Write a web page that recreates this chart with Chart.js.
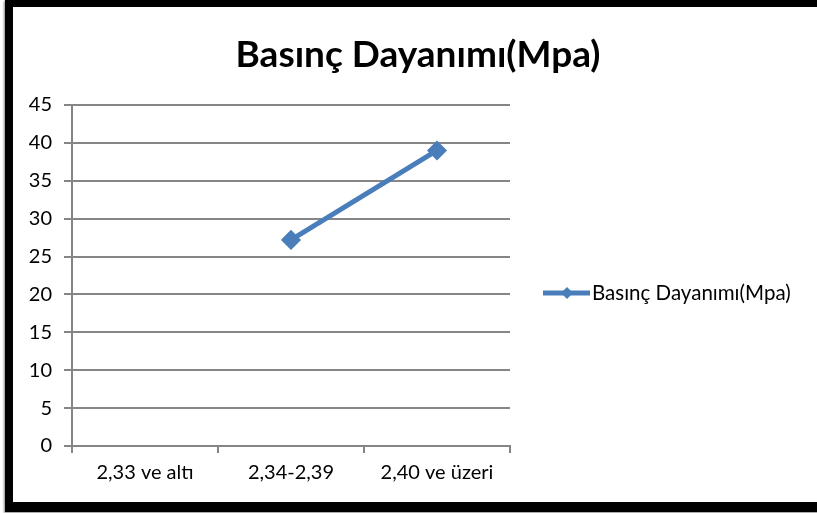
<!DOCTYPE html>
<html>
<head>
<meta charset="utf-8">
<script src="https://cdn.jsdelivr.net/npm/chart.js@4/dist/chart.umd.min.js"></script>
<style>
    body { margin: 0; background: #fff; overflow: hidden; }
    #frame {
        position: absolute; left: 5px; top: 0; width: 830px; height: 495px;
        border-style: solid; border-color: #000;
        border-width: 7px 0 10px 8px;
        box-shadow: -1px 1px 2px #888;
        background: #fff;
    }
    #wrap { position: absolute; left: 0; top: 0; width: 817px; height: 513px; }
</style>
</head>
<body>
<div id="frame"></div>
<div id="wrap"><canvas id="chart"></canvas></div>
<script>
const categories = ['2,33 ve altı', '2,34-2,39', '2,40 ve üzeri'];
const strength = [null, 27.2, 39];
const seriesName = 'Basınç Dayanımı(Mpa)';
const lineColor = '#4A7EBB';

// title and legend drawn by hand, placed like the office chart
const decorations = {
    id: 'decorations',
    afterDraw(chart) {
        const ctx = chart.ctx;
        const ds = chart.data.datasets[0];
        ctx.save();
        ctx.fillStyle = '#000';
        ctx.font = 'bold 37px Lato';
        ctx.textAlign = 'center';
        ctx.textBaseline = 'middle';
        ctx.fillText(seriesName, 418, 55);

        const y = 293;
        ctx.strokeStyle = ds.borderColor;
        ctx.lineWidth = 5;
        ctx.beginPath();
        ctx.moveTo(543, y);
        ctx.lineTo(590, y);
        ctx.stroke();
        ctx.fillStyle = ds.borderColor;
        ctx.beginPath();
        ctx.moveTo(567, y - 6);
        ctx.lineTo(573, y);
        ctx.lineTo(567, y + 6);
        ctx.lineTo(561, y);
        ctx.closePath();
        ctx.fill();
        ctx.fillStyle = '#000';
        ctx.font = '20.5px Lato';
        ctx.textAlign = 'left';
        ctx.fillText(ds.label, 592, y);
        ctx.restore();
    }
};

new Chart(document.getElementById('chart').getContext('2d'), {
    type: 'line',
    data: {
        labels: categories,
        datasets: [{
            label: seriesName,
            data: strength,
            borderColor: lineColor,
            backgroundColor: lineColor,
            borderWidth: 5,
            pointStyle: 'rectRot',
            pointRadius: 6.5,
            pointHoverRadius: 6.5,
            tension: 0
        }]
    },
    options: {
        responsive: true,
        maintainAspectRatio: false,
        animation: false,
        layout: { padding: { left: 0, right: 307, top: 105, bottom: 0 } },
        plugins: {
            legend: { display: false },
            tooltip: { enabled: false },
            title: { display: false }
        },
        scales: {
            x: {
                offset: true,
                afterFit: (s) => { s.height = 67; },
                grid: {
                    offset: true,
                    drawOnChartArea: false,
                    tickLength: 7,
                    color: '#868686',
                    lineWidth: 2
                },
                border: { color: '#868686', width: 2 },
                ticks: { color: '#000', padding: 8, font: { family: 'Lato', size: 20 } }
            },
            y: {
                min: 0,
                max: 45,
                afterFit: (s) => { s.width = 72; },
                grid: { color: '#868686', lineWidth: 2, tickLength: 8 },
                border: { color: '#868686', width: 2 },
                ticks: { stepSize: 5, color: '#000', padding: 12, font: { family: 'Lato', size: 20 } }
            }
        }
    },
    plugins: [decorations]
});
</script>
</body>
</html>
